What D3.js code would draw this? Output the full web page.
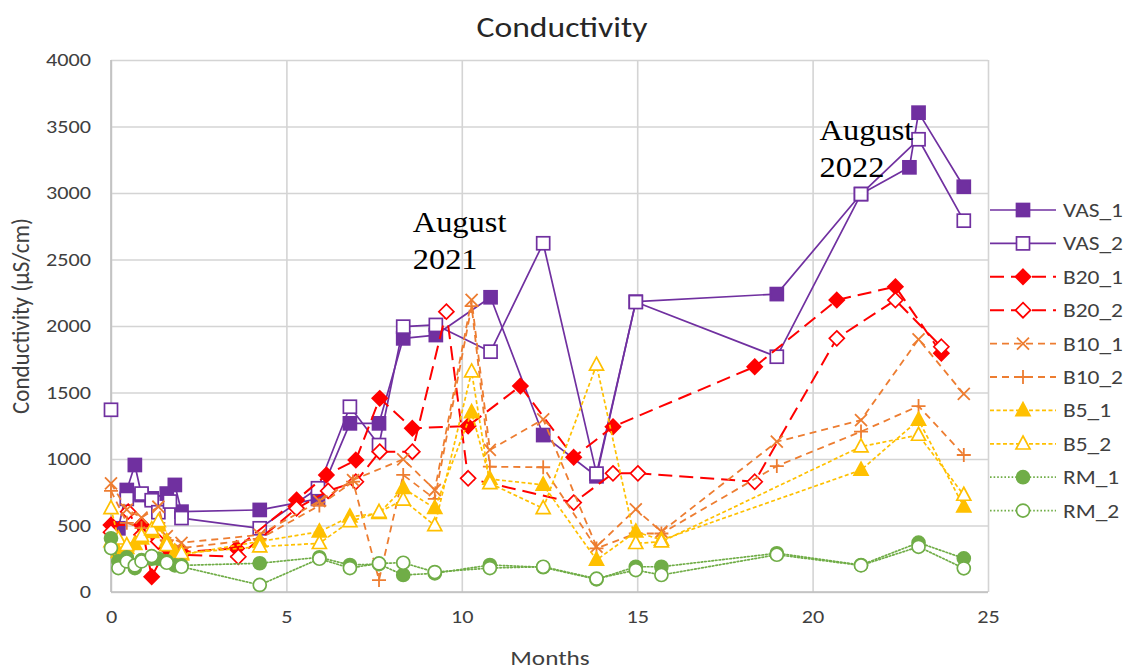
<!DOCTYPE html>
<html>
<head>
<meta charset="utf-8">
<script src="https://cdn.jsdelivr.net/npm/d3@7"></script>
<style>
  html, body { margin: 0; padding: 0; background: #ffffff; }
  svg { display: block; }
  .sans { font-family: Carlito, "Liberation Sans Narrow", "Open Sans", "Noto Sans", sans-serif; }
  .serif { font-family: "Liberation Serif", "DejaVu Serif", serif; }
</style>
</head>
<body>
<svg id="chart" width="1130" height="671"></svg>
<script>
// Sampling months and conductivity (µS/cm) per monitoring point
const VAS_1 = [[0.21,479],[0.45,767],[0.68,955],[0.87,729],[1.16,704],[1.59,740],[1.82,805],[2.01,604],[4.24,617],[5.9,700],[6.81,1268],[7.64,1268],[8.33,1907],[9.26,1932],[10.82,2216],[12.32,1180],[13.84,870],[14.96,2183],[18.98,2240],[21.38,2992],[22.76,3193],[23.02,3604],[24.31,3047]];
const VAS_2 = [[0,1370],[0.21,null],[0.45,700],[0.87,740],[1.16,690],[1.35,600],[1.68,680],[2.01,556],[4.24,479],[5.9,780],[6.81,1393],[7.64,1105],[8.33,1995],[9.26,2008],[10.82,1807],[12.32,2622],[13.84,890],[14.96,2180],[18.98,1769],[21.38,2992],[23.02,3404],[24.31,2792]];
const B20_1 = [[0,504],[0.87,504],[1.16,115],[1.59,330],[2.01,300],[3.58,328],[5.29,692],[6.14,880],[6.98,992],[7.66,1456],[8.59,1231],[10.18,1248],[11.67,1549],[13.19,1013],[14.31,1243],[18.35,1694],[20.69,2195],[22.36,2296],[23.67,1795]];
const B20_2 = [[0,450],[0.49,604],[0.87,430],[1.35,380],[2.01,280],[3.63,265],[5.29,629],[6.19,760],[6.98,829],[7.66,1055],[8.59,1055],[9.56,2108],[10.18,855],[13.19,672],[14.31,892],[15.02,892],[18.35,829],[20.69,1907],[22.36,2195],[23.67,1844]];
const B10_1 = [[0,817],[0.45,620],[0.87,560],[1.35,641],[1.59,420],[2.01,370],[4.24,430],[5.94,684],[6.9,842],[8.33,998],[9.23,767],[10.28,2196],[10.8,1068],[12.32,1298],[13.84,341],[14.96,622],[15.69,453],[18.98,1130],[21.38,1293],[23.02,1900],[24.31,1489]];
const B10_2 = [[0,760],[0.45,520],[0.87,480],[1.35,520],[1.59,390],[2.01,330],[4.24,400],[5.94,650],[6.9,830],[7.64,90],[8.33,880],[9.23,700],[10.28,2150],[10.8,942],[12.32,938],[13.84,328],[14.96,440],[15.69,440],[18.98,947],[21.38,1206],[23.02,1398],[24.31,1030]];
const B5_1 = [[0,380],[0.21,300],[0.45,330],[0.68,360],[0.87,400],[1.16,450],[1.35,500],[1.59,380],[1.82,300],[2.01,280],[4.24,380],[5.94,453],[6.81,566],[7.64,592],[8.33,780],[9.23,630],[10.28,1350],[10.8,850],[12.32,805],[13.84,241],[14.96,453],[15.69,391],[21.38,917],[23.02,1293],[24.31,641]];
const B5_2 = [[0,629],[0.21,400],[0.45,350],[0.87,420],[1.16,470],[1.35,530],[1.59,350],[2.01,290],[4.24,341],[5.94,366],[6.81,530],[7.64,600],[8.33,692],[9.23,500],[10.28,1656],[10.8,817],[12.32,629],[13.84,1707],[14.96,366],[15.69,378],[21.38,1093],[23.02,1180],[24.31,729]];
const RM_1 = [[0,404],[0.21,230],[0.45,260],[0.68,180],[0.87,240],[1.16,250],[1.35,250],[1.59,230],[1.82,200],[2.01,200],[4.24,216],[5.94,261],[6.81,203],[7.64,210],[8.33,128],[9.23,140],[10.8,203],[12.32,186],[13.84,95],[14.96,190],[15.69,190],[18.98,291],[21.38,203],[23.02,371],[24.31,253]];
const RM_2 = [[0,330],[0.21,180],[0.45,230],[0.68,200],[0.87,230],[1.16,270],[1.59,220],[2.01,190],[4.24,53],[5.94,250],[6.81,180],[7.64,215],[8.33,220],[9.23,150],[10.8,180],[12.32,190],[13.84,100],[14.96,165],[15.69,128],[18.98,280],[21.38,200],[23.02,340],[24.31,178]];

const xTicks = [0, 5, 10, 15, 20, 25];
const yTicks = [0, 500, 1000, 1500, 2000, 2500, 3000, 3500, 4000];
const annotations = [
  { lines: ["August", "2021"], month: 8.6, value: 2707 },
  { lines: ["August", "2022"], month: 20.2, value: 3398 }
];

// Series appearance
const series = [
  { name: "VAS_1", data: VAS_1, color: "#7030A0", dash: null,    width: 1.7, marker: "square",   filled: true },
  { name: "VAS_2", data: VAS_2, color: "#7030A0", dash: null,    width: 1.7, marker: "square",   filled: false },
  { name: "B20_1", data: B20_1, color: "#FF0000", dash: "14,7",  width: 2,   marker: "diamond",  filled: true },
  { name: "B20_2", data: B20_2, color: "#FF0000", dash: "14,7",  width: 2,   marker: "diamond",  filled: false },
  { name: "B10_1", data: B10_1, color: "#ED7D31", dash: "7,5",   width: 1.8, marker: "x",        filled: true },
  { name: "B10_2", data: B10_2, color: "#ED7D31", dash: "7,5",   width: 1.8, marker: "plus",     filled: true },
  { name: "B5_1",  data: B5_1,  color: "#FFC000", dash: "4,2.5", width: 1.7, marker: "triangle", filled: true },
  { name: "B5_2",  data: B5_2,  color: "#FFC000", dash: "4,2.5", width: 1.7, marker: "triangle", filled: false },
  { name: "RM_1",  data: RM_1,  color: "#70AD47", dash: "1.6,2", width: 1.7, marker: "circle",   filled: true },
  { name: "RM_2",  data: RM_2,  color: "#70AD47", dash: "1.6,2", width: 1.7, marker: "circle",   filled: false }
];

// Text in this chart is set a little wide
const STRETCH = 1.2;
function widen(sel, k) {
  sel.each(function () {
    const t = d3.select(this);
    const tx = +t.attr("x") || 0, ty = +t.attr("y") || 0;
    t.attr("x", 0).attr("y", 0).attr("transform", `translate(${tx},${ty}) scale(${k},1)`);
  });
}

const svg = d3.select("#chart");
const plot = { left: 111, right: 988, top: 60, bottom: 592 };

const x = d3.scaleLinear().domain([0, 25]).range([plot.left, plot.right]);
const y = d3.scaleLinear().domain([0, 4000]).range([plot.bottom, plot.top]);

// Gridlines and tick labels
const gridColor = "#d4d4d4";
const yAxis = svg.append("g")
  .attr("transform", `translate(${plot.left},0)`)
  .call(d3.axisLeft(y).tickValues(yTicks).tickSize(-(plot.right - plot.left)).tickPadding(20).tickFormat(d3.format("d")));
yAxis.select(".domain").remove();
yAxis.selectAll(".tick line").attr("stroke", gridColor).attr("stroke-width", 1.6);
yAxis.selectAll(".tick text").attr("class", "sans").attr("font-size", 18.5).attr("fill", "#404040");
widen(yAxis.selectAll(".tick text"), STRETCH);

const xAxis = svg.append("g")
  .attr("transform", `translate(0,${plot.bottom})`)
  .call(d3.axisBottom(x).tickValues(xTicks).tickSize(-(plot.bottom - plot.top)).tickPadding(18).tickFormat(d3.format("d")));
xAxis.select(".domain").remove();
xAxis.selectAll(".tick line").attr("stroke", gridColor).attr("stroke-width", 1.6);
xAxis.selectAll(".tick text").attr("class", "sans").attr("font-size", 18.5).attr("fill", "#404040");
widen(xAxis.selectAll(".tick text"), STRETCH);

// Plot frame edges
svg.append("line").attr("x1", plot.left).attr("x2", plot.left).attr("y1", plot.top).attr("y2", plot.bottom)
  .attr("stroke", "#bfbfbf").attr("stroke-width", 1.6);
svg.append("line").attr("x1", plot.left).attr("x2", plot.right).attr("y1", plot.bottom).attr("y2", plot.bottom)
  .attr("stroke", "#bfbfbf").attr("stroke-width", 1.6);

// Marker drawing
function drawMarker(g, s, cx, cy) {
  const fill = s.filled ? s.color : "#ffffff";
  const sw = 1.7;
  if (s.marker === "square") {
    g.append("rect").attr("x", cx - 6.5).attr("y", cy - 6.5).attr("width", 13).attr("height", 13)
      .attr("fill", fill).attr("stroke", s.color).attr("stroke-width", sw);
  } else if (s.marker === "diamond") {
    const r = 7.5;
    g.append("path").attr("d", `M${cx},${cy - r}L${cx + r},${cy}L${cx},${cy + r}L${cx - r},${cy}Z`)
      .attr("fill", fill).attr("stroke", s.color).attr("stroke-width", sw);
  } else if (s.marker === "triangle") {
    const h = 13, w = 14;
    g.append("path").attr("d", `M${cx},${cy - h * 0.6}L${cx + w / 2},${cy + h * 0.4}L${cx - w / 2},${cy + h * 0.4}Z`)
      .attr("fill", fill).attr("stroke", s.color).attr("stroke-width", sw);
  } else if (s.marker === "circle") {
    g.append("circle").attr("cx", cx).attr("cy", cy).attr("r", 6.5)
      .attr("fill", fill).attr("stroke", s.color).attr("stroke-width", sw);
  } else if (s.marker === "x") {
    const r = 6;
    g.append("path").attr("d", `M${cx - r},${cy - r}L${cx + r},${cy + r}M${cx - r},${cy + r}L${cx + r},${cy - r}`)
      .attr("fill", "none").attr("stroke", s.color).attr("stroke-width", 1.8);
  } else if (s.marker === "plus") {
    const r = 7;
    g.append("path").attr("d", `M${cx - r},${cy}L${cx + r},${cy}M${cx},${cy - r}L${cx},${cy + r}`)
      .attr("fill", "none").attr("stroke", s.color).attr("stroke-width", 1.8);
  }
}

const line = d3.line()
  .defined(d => d[1] !== null)
  .x(d => x(d[0]))
  .y(d => y(d[1]));

// Series lines and markers
series.forEach(s => {
  const g = svg.append("g").attr("class", "series");
  g.append("path").datum(s.data).attr("d", line)
    .attr("fill", "none").attr("stroke", s.color).attr("stroke-width", s.width)
    .attr("stroke-dasharray", s.dash).attr("stroke-linecap", s.marker === "circle" ? "round" : "butt")
    .attr("stroke-linejoin", "round");
  s.data.filter(d => d[1] !== null).forEach(d => drawMarker(g, s, x(d[0]), y(d[1])));
});

// Title and axis titles
const title = svg.append("text").attr("class", "sans").attr("x", 562).attr("y", 37).attr("text-anchor", "middle")
  .attr("font-size", 28).attr("fill", "#262626").text("Conductivity");
widen(title, STRETCH);
const xTitle = svg.append("text").attr("class", "sans").attr("x", 550).attr("y", 665).attr("text-anchor", "middle")
  .attr("font-size", 21).attr("fill", "#404040").text("Months");
widen(xTitle, STRETCH);
svg.append("text").attr("class", "sans")
  .attr("transform", "translate(29,316) rotate(-90) scale(1,1.05)").attr("text-anchor", "middle")
  .attr("font-size", 23).attr("fill", "#404040").text("Conductivity (µS/cm)");

// Date annotations
annotations.forEach(a => {
  a.lines.forEach((ln, i) => {
    const t = svg.append("text").attr("class", "serif").attr("font-size", 29).attr("fill", "#000")
      .attr("x", x(a.month)).attr("y", y(a.value) + i * 37).text(ln);
    widen(t, 1.12);
  });
});

// Legend
const legend = svg.append("g").attr("transform", "translate(990,210)");
series.forEach((s, i) => {
  const ly = i * 33.4;
  const g = legend.append("g");
  g.append("line").attr("x1", 0).attr("x2", 66).attr("y1", ly).attr("y2", ly)
    .attr("stroke", s.color).attr("stroke-width", s.width).attr("stroke-dasharray", s.dash);
  drawMarker(g, s, 33, ly);
  const t = g.append("text").attr("class", "sans").attr("x", 73).attr("y", ly + 7)
    .attr("font-size", 19.5).attr("fill", "#404040").text(s.name);
  widen(t, STRETCH);
});
</script>
</body>
</html>
